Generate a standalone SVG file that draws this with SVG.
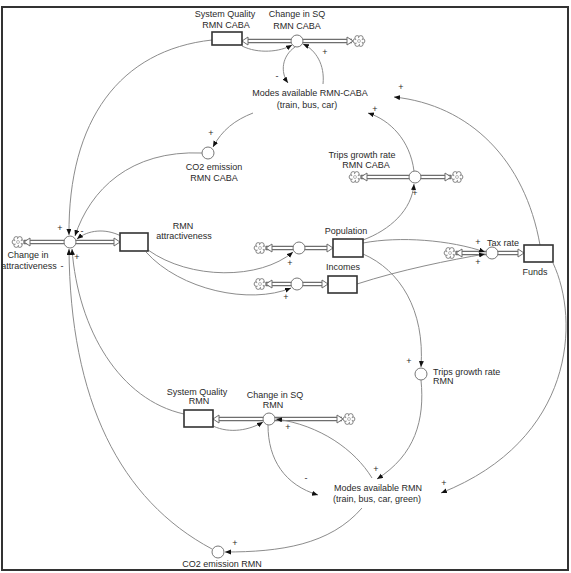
<svg xmlns="http://www.w3.org/2000/svg" width="571" height="573" viewBox="0 0 571 573">
<style>
text{font-family:"Liberation Sans",Arial,sans-serif;font-size:9px;fill:#2a2a2a;text-anchor:middle}
.l{text-anchor:start}
.sg{font-size:9px}
.lk{fill:none;stroke:#8c8c8c;stroke-width:1;marker-end:url(#ah)}
.po{fill:none;stroke:#6e6e6e;stroke-width:4.6}
.pi{fill:none;stroke:#fff;stroke-width:2.2}
.ph{fill:#fff;stroke:#6e6e6e;stroke-width:1}
.st{fill:#fff;stroke:#333;stroke-width:1.6}
.vv{fill:#fff;stroke:#777;stroke-width:1}
</style>
<defs>
<marker id="ah" markerUnits="userSpaceOnUse" markerWidth="7" markerHeight="6" refX="6" refY="2.5" orient="auto">
<path d="M0,0 L6,2.5 L0,5 z" fill="#111"/>
</marker>
<symbol id="cloud" viewBox="-7 -7 14 14" overflow="visible">
<g fill="#fff" stroke="#777" stroke-width="0.9">
<circle cx="3.6" cy="0" r="2.3"/><circle cx="1.8" cy="3.1" r="2.3"/><circle cx="-1.8" cy="3.1" r="2.3"/>
<circle cx="-3.6" cy="0" r="2.3"/><circle cx="-1.8" cy="-3.1" r="2.3"/><circle cx="1.8" cy="-3.1" r="2.3"/>
</g>
<circle r="3" fill="#fff"/>
<circle r="1.5" fill="none" stroke="#999" stroke-width="0.7"/>
</symbol>
</defs>
<rect x="0" y="0" width="571" height="573" fill="#fff"/>
<rect x="2" y="7" width="566" height="563" fill="none" stroke="#333" stroke-width="2"/>

<g id="connectors">
<!-- flows (pipes) -->
<g id="pipes">
<path class="po" d="M247,41 H352"/><path class="pi" d="M247,41 H352"/>
<polygon class="ph" points="248,37 242,41 248,45"/><polygon class="ph" points="347,37 353,41 347,45"/>

<path class="po" d="M361,177 H451"/><path class="pi" d="M361,177 H451"/>
<polygon class="ph" points="367,173 361,177 367,181"/><polygon class="ph" points="445,173 451,177 445,181"/>

<path class="po" d="M24,242 H115"/><path class="pi" d="M24,242 H115"/>
<polygon class="ph" points="30,238 24,242 30,246"/><polygon class="ph" points="114,238 120,242 114,246"/>

<path class="po" d="M266,248 H328"/><path class="pi" d="M266,248 H328"/>
<polygon class="ph" points="272,244 266,248 272,252"/><polygon class="ph" points="327,244 333,248 327,252"/>

<path class="po" d="M266,284 H323"/><path class="pi" d="M266,284 H323"/>
<polygon class="ph" points="272,280 266,284 272,288"/><polygon class="ph" points="322,280 328,284 322,288"/>

<path class="po" d="M456,253 H519"/><path class="pi" d="M456,253 H519"/>
<polygon class="ph" points="462,249 456,253 462,257"/><polygon class="ph" points="518,249 524,253 518,257"/>

<path class="po" d="M218,419 H342"/><path class="pi" d="M218,419 H342"/>
<polygon class="ph" points="219,415 213,419 219,423"/><polygon class="ph" points="337,415 343,419 337,423"/>
</g>
<!-- causal links -->
<g id="links">
<path class="lk" d="M242,46 C258,54 280,52 292,45"/>
<path class="lk" d="M295,47 C282,56 280,72 288,83"/>
<path class="lk" d="M323,84 C325,65 316,50 303,44"/>
<path class="lk" d="M253,113 C235,120 222,130 213,147"/>
<path class="lk" d="M212,40 C120,50 68,120 69,235"/>
<path class="lk" d="M202,153 C130,150 90,190 75,236"/>
<path class="lk" d="M121,236 C105,228 88,230 77,239"/>
<path class="lk" d="M184,414 C120,400 78,330 72,249"/>
<path class="lk" d="M212,549 C120,500 70,400 69,249"/>
<path class="lk" d="M148,250 C190,280 260,280 293,252"/>
<path class="lk" d="M146,252 C180,290 250,305 291,288"/>
<path class="lk" d="M363,240 C390,230 412,210 414,184"/>
<path class="lk" d="M414,171 C410,140 390,120 368,113"/>
<path class="lk" d="M363,243 C400,236 450,240 485,252"/>
<path class="lk" d="M357,284 C400,270 450,260 485,254"/>
<path class="lk" d="M363,254 C400,270 425,310 421,367"/>
<path class="lk" d="M421,380 C425,420 415,455 377,479"/>
<path class="lk" d="M540,245 C525,160 470,105 394,97"/>
<path class="lk" d="M553,263 C580,320 575,440 441,493"/>
<path class="lk" d="M213,426 C230,434 250,430 263,422"/>
<path class="lk" d="M268,425 C268,460 285,485 318,495"/>
<path class="lk" d="M372,478 C355,450 320,425 276,419"/>
<path class="lk" d="M362,508 C330,545 280,552 225,552"/>
</g>
<g id="signs">
<text class="sg" x="277" y="79">-</text>
<text class="sg" x="325" y="55">+</text>
<text class="sg" x="211" y="136">+</text>
<text class="sg" x="375" y="112">+</text>
<text class="sg" x="401" y="90">+</text>
<text class="sg" x="415" y="196">+</text>
<text class="sg" x="60" y="231">+</text>
<text class="sg" x="82" y="234">-</text>
<text class="sg" x="77" y="260">+</text>
<text class="sg" x="62" y="269">-</text>
<text class="sg" x="290" y="266">+</text>
<text class="sg" x="286" y="300">+</text>
<text class="sg" x="478" y="245">+</text>
<text class="sg" x="478" y="265">+</text>
<text class="sg" x="409" y="364">+</text>
<text class="sg" x="376" y="472">+</text>
<text class="sg" x="444" y="486">+</text>
<text class="sg" x="288" y="430">+</text>
<text class="sg" x="306" y="481">-</text>
<text class="sg" x="235" y="546">+</text>
</g>
</g>

<g id="sq-rmn-caba"><rect class="st" x="212" y="32" width="30" height="13"/><text x="225" y="17">System Quality</text><text x="226" y="28">RMN CABA</text></g>
<g id="change-sq-rmn-caba"><circle class="vv" cx="297" cy="41" r="6"/><text x="297" y="17">Change in SQ</text><text x="297" y="29">RMN CABA</text></g>
<g id="cloud-sq-caba"><use href="#cloud" x="352" y="34" width="14" height="14"/></g>
<g id="modes-rmn-caba"><text x="310" y="96">Modes available RMN-CABA</text><text x="307" y="108">(train, bus, car)</text></g>
<g id="co2-rmn-caba"><circle class="vv" cx="208" cy="153" r="6"/><text x="214" y="170">CO2 emission</text><text x="214" y="181">RMN CABA</text></g>
<g id="trips-rmn-caba"><circle class="vv" cx="415" cy="177" r="6"/><text x="362" y="158">Trips growth rate</text><text x="366" y="168">RMN CABA</text>
<use href="#cloud" x="348" y="170" width="14" height="14"/><use href="#cloud" x="450" y="170" width="14" height="14"/></g>
<g id="change-attractiveness"><circle class="vv" cx="70" cy="242" r="6"/><use href="#cloud" x="11" y="235" width="14" height="14"/><text x="28" y="258">Change in</text><text x="29" y="269">attractiveness</text></g>
<g id="rmn-attractiveness"><rect class="st" x="120" y="233" width="28" height="18"/><text x="183" y="229">RMN</text><text x="184" y="239">attractiveness</text></g>
<g id="population"><circle class="vv" cx="299" cy="248" r="6"/><use href="#cloud" x="253" y="241" width="14" height="14"/><rect class="st" x="333" y="239" width="30" height="18"/><text x="346" y="234">Population</text></g>
<g id="incomes"><circle class="vv" cx="297" cy="284" r="6"/><use href="#cloud" x="253" y="277" width="14" height="14"/><rect class="st" x="328" y="276" width="29" height="17"/><text x="343" y="270">Incomes</text></g>
<g id="tax-rate"><circle class="vv" cx="492" cy="253" r="6"/><use href="#cloud" x="443" y="246" width="14" height="14"/><text class="l" x="487" y="246">Tax rate</text></g>
<g id="funds"><rect class="st" x="524" y="245" width="29" height="17"/><text x="535" y="275">Funds</text></g>
<g id="trips-rmn"><circle class="vv" cx="421" cy="374" r="6"/><text class="l" x="433" y="375">Trips growth rate</text><text class="l" x="433" y="384">RMN</text></g>
<g id="sq-rmn"><rect class="st" x="184" y="410" width="29" height="17"/><text x="197" y="395">System Quality</text><text x="199" y="404">RMN</text></g>
<g id="change-sq-rmn"><circle class="vv" cx="269" cy="419" r="6"/><use href="#cloud" x="342" y="412" width="14" height="14"/><text x="275" y="398">Change in SQ</text><text x="273" y="408">RMN</text></g>
<g id="modes-rmn"><text x="378" y="491">Modes available RMN</text><text x="377" y="502">(train, bus, car, green)</text></g>
<g id="co2-rmn"><circle class="vv" cx="218" cy="552" r="6"/><text x="222" y="567">CO2 emission RMN</text></g>
</svg>
